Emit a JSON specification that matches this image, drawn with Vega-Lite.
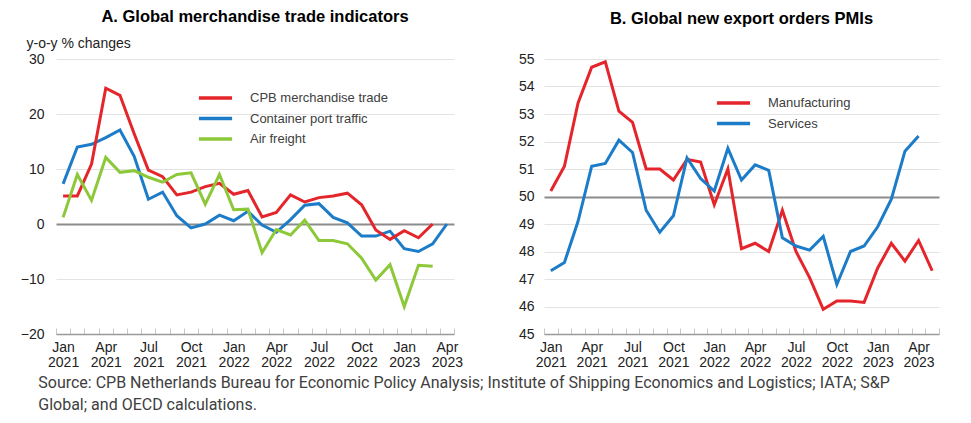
{
  "$schema": "https://vega.github.io/schema/vega-lite/v6.json",
  "background": "white",
  "padding": {"left": 20, "top": 8, "right": 10, "bottom": 5},
  "datasets": {
    "trade": [
      {"month":"Jan 2021","series":"Container port traffic","value":7.3},
      {"month":"Feb 2021","series":"Container port traffic","value":14.0},
      {"month":"Mar 2021","series":"Container port traffic","value":14.5},
      {"month":"Apr 2021","series":"Container port traffic","value":15.7},
      {"month":"May 2021","series":"Container port traffic","value":17.1},
      {"month":"Jun 2021","series":"Container port traffic","value":12.3},
      {"month":"Jul 2021","series":"Container port traffic","value":4.5},
      {"month":"Aug 2021","series":"Container port traffic","value":5.8},
      {"month":"Sep 2021","series":"Container port traffic","value":1.5},
      {"month":"Oct 2021","series":"Container port traffic","value":-0.7},
      {"month":"Nov 2021","series":"Container port traffic","value":0.0},
      {"month":"Dec 2021","series":"Container port traffic","value":1.6},
      {"month":"Jan 2022","series":"Container port traffic","value":0.6},
      {"month":"Feb 2022","series":"Container port traffic","value":2.3},
      {"month":"Mar 2022","series":"Container port traffic","value":-0.2},
      {"month":"Apr 2022","series":"Container port traffic","value":-1.5},
      {"month":"May 2022","series":"Container port traffic","value":0.8},
      {"month":"Jun 2022","series":"Container port traffic","value":3.4},
      {"month":"Jul 2022","series":"Container port traffic","value":3.7},
      {"month":"Aug 2022","series":"Container port traffic","value":1.2},
      {"month":"Sep 2022","series":"Container port traffic","value":0.2},
      {"month":"Oct 2022","series":"Container port traffic","value":-2.2},
      {"month":"Nov 2022","series":"Container port traffic","value":-2.2},
      {"month":"Dec 2022","series":"Container port traffic","value":-1.3},
      {"month":"Jan 2023","series":"Container port traffic","value":-4.5},
      {"month":"Feb 2023","series":"Container port traffic","value":-5.0},
      {"month":"Mar 2023","series":"Container port traffic","value":-3.6},
      {"month":"Apr 2023","series":"Container port traffic","value":0.0},
      {"month":"Jan 2021","series":"CPB merchandise trade","value":5.1},
      {"month":"Feb 2021","series":"CPB merchandise trade","value":5.1},
      {"month":"Mar 2021","series":"CPB merchandise trade","value":10.9},
      {"month":"Apr 2021","series":"CPB merchandise trade","value":24.7},
      {"month":"May 2021","series":"CPB merchandise trade","value":23.4},
      {"month":"Jun 2021","series":"CPB merchandise trade","value":16.4},
      {"month":"Jul 2021","series":"CPB merchandise trade","value":9.8},
      {"month":"Aug 2021","series":"CPB merchandise trade","value":8.6},
      {"month":"Sep 2021","series":"CPB merchandise trade","value":5.3},
      {"month":"Oct 2021","series":"CPB merchandise trade","value":5.8},
      {"month":"Nov 2021","series":"CPB merchandise trade","value":6.8},
      {"month":"Dec 2021","series":"CPB merchandise trade","value":7.4},
      {"month":"Jan 2022","series":"CPB merchandise trade","value":5.4},
      {"month":"Feb 2022","series":"CPB merchandise trade","value":6.1},
      {"month":"Mar 2022","series":"CPB merchandise trade","value":1.3},
      {"month":"Apr 2022","series":"CPB merchandise trade","value":2.1},
      {"month":"May 2022","series":"CPB merchandise trade","value":5.3},
      {"month":"Jun 2022","series":"CPB merchandise trade","value":4.0},
      {"month":"Jul 2022","series":"CPB merchandise trade","value":4.8},
      {"month":"Aug 2022","series":"CPB merchandise trade","value":5.1},
      {"month":"Sep 2022","series":"CPB merchandise trade","value":5.6},
      {"month":"Oct 2022","series":"CPB merchandise trade","value":3.5},
      {"month":"Nov 2022","series":"CPB merchandise trade","value":-1.1},
      {"month":"Dec 2022","series":"CPB merchandise trade","value":-2.8},
      {"month":"Jan 2023","series":"CPB merchandise trade","value":-1.2},
      {"month":"Feb 2023","series":"CPB merchandise trade","value":-2.5},
      {"month":"Mar 2023","series":"CPB merchandise trade","value":0.0},
      {"month":"Jan 2021","series":"Air freight","value":1.2},
      {"month":"Feb 2021","series":"Air freight","value":9.0},
      {"month":"Mar 2021","series":"Air freight","value":4.3},
      {"month":"Apr 2021","series":"Air freight","value":12.1},
      {"month":"May 2021","series":"Air freight","value":9.4},
      {"month":"Jun 2021","series":"Air freight","value":9.7},
      {"month":"Jul 2021","series":"Air freight","value":8.5},
      {"month":"Aug 2021","series":"Air freight","value":7.6},
      {"month":"Sep 2021","series":"Air freight","value":9.0},
      {"month":"Oct 2021","series":"Air freight","value":9.3},
      {"month":"Nov 2021","series":"Air freight","value":3.6},
      {"month":"Dec 2021","series":"Air freight","value":9.0},
      {"month":"Jan 2022","series":"Air freight","value":2.6},
      {"month":"Feb 2022","series":"Air freight","value":2.7},
      {"month":"Mar 2022","series":"Air freight","value":-5.2},
      {"month":"Apr 2022","series":"Air freight","value":-1.0},
      {"month":"May 2022","series":"Air freight","value":-2.0},
      {"month":"Jun 2022","series":"Air freight","value":0.7},
      {"month":"Jul 2022","series":"Air freight","value":-3.0},
      {"month":"Aug 2022","series":"Air freight","value":-3.0},
      {"month":"Sep 2022","series":"Air freight","value":-3.6},
      {"month":"Oct 2022","series":"Air freight","value":-6.2},
      {"month":"Nov 2022","series":"Air freight","value":-10.2},
      {"month":"Dec 2022","series":"Air freight","value":-7.4},
      {"month":"Jan 2023","series":"Air freight","value":-15.0},
      {"month":"Feb 2023","series":"Air freight","value":-7.5},
      {"month":"Mar 2023","series":"Air freight","value":-7.7}
    ],
    "pmi": [
      {"month":"Jan 2021","series":"Manufacturing","value":50.2},
      {"month":"Feb 2021","series":"Manufacturing","value":51.1},
      {"month":"Mar 2021","series":"Manufacturing","value":53.4},
      {"month":"Apr 2021","series":"Manufacturing","value":54.7},
      {"month":"May 2021","series":"Manufacturing","value":54.9},
      {"month":"Jun 2021","series":"Manufacturing","value":53.1},
      {"month":"Jul 2021","series":"Manufacturing","value":52.7},
      {"month":"Aug 2021","series":"Manufacturing","value":51.0},
      {"month":"Sep 2021","series":"Manufacturing","value":51.0},
      {"month":"Oct 2021","series":"Manufacturing","value":50.6},
      {"month":"Nov 2021","series":"Manufacturing","value":51.35},
      {"month":"Dec 2021","series":"Manufacturing","value":51.25},
      {"month":"Jan 2022","series":"Manufacturing","value":49.7},
      {"month":"Feb 2022","series":"Manufacturing","value":51.0},
      {"month":"Mar 2022","series":"Manufacturing","value":48.1},
      {"month":"Apr 2022","series":"Manufacturing","value":48.3},
      {"month":"May 2022","series":"Manufacturing","value":48.0},
      {"month":"Jun 2022","series":"Manufacturing","value":49.5},
      {"month":"Jul 2022","series":"Manufacturing","value":48.0},
      {"month":"Aug 2022","series":"Manufacturing","value":47.05},
      {"month":"Sep 2022","series":"Manufacturing","value":45.9},
      {"month":"Oct 2022","series":"Manufacturing","value":46.2},
      {"month":"Nov 2022","series":"Manufacturing","value":46.2},
      {"month":"Dec 2022","series":"Manufacturing","value":46.15},
      {"month":"Jan 2023","series":"Manufacturing","value":47.4},
      {"month":"Feb 2023","series":"Manufacturing","value":48.3},
      {"month":"Mar 2023","series":"Manufacturing","value":47.65},
      {"month":"Apr 2023","series":"Manufacturing","value":48.4},
      {"month":"May 2023","series":"Manufacturing","value":47.3},
      {"month":"Jan 2021","series":"Services","value":47.3},
      {"month":"Feb 2021","series":"Services","value":47.6},
      {"month":"Mar 2021","series":"Services","value":49.1},
      {"month":"Apr 2021","series":"Services","value":51.1},
      {"month":"May 2021","series":"Services","value":51.2},
      {"month":"Jun 2021","series":"Services","value":52.05},
      {"month":"Jul 2021","series":"Services","value":51.6},
      {"month":"Aug 2021","series":"Services","value":49.5},
      {"month":"Sep 2021","series":"Services","value":48.7},
      {"month":"Oct 2021","series":"Services","value":49.3},
      {"month":"Nov 2021","series":"Services","value":51.4},
      {"month":"Dec 2021","series":"Services","value":50.65},
      {"month":"Jan 2022","series":"Services","value":50.2},
      {"month":"Feb 2022","series":"Services","value":51.75},
      {"month":"Mar 2022","series":"Services","value":50.6},
      {"month":"Apr 2022","series":"Services","value":51.15},
      {"month":"May 2022","series":"Services","value":50.95},
      {"month":"Jun 2022","series":"Services","value":48.5},
      {"month":"Jul 2022","series":"Services","value":48.2},
      {"month":"Aug 2022","series":"Services","value":48.05},
      {"month":"Sep 2022","series":"Services","value":48.55},
      {"month":"Oct 2022","series":"Services","value":46.8},
      {"month":"Nov 2022","series":"Services","value":48.0},
      {"month":"Dec 2022","series":"Services","value":48.2},
      {"month":"Jan 2023","series":"Services","value":48.9},
      {"month":"Feb 2023","series":"Services","value":49.9},
      {"month":"Mar 2023","series":"Services","value":51.65},
      {"month":"Apr 2023","series":"Services","value":52.2}
    ]
  },
  "title": {
    "text": ["Source: CPB Netherlands Bureau for Economic Policy Analysis; Institute of Shipping Economics and Logistics; IATA; S&P", "Global; and OECD calculations."],
    "orient": "bottom",
    "anchor": "start",
    "frame": "bounds",
    "font": "Roboto",
    "fontSize": 16,
    "fontWeight": "normal",
    "color": "#404040",
    "lineHeight": 22,
    "offset": 6,
    "dx": 18
  },
  "hconcat": [
    {
      "data": {"name": "trade"},
      "width": 398,
      "height": 275,
      "title": {"text": "A. Global merchandise trade indicators", "fontSize": 16.5, "fontWeight": "bold", "color": "#000000", "anchor": "middle", "frame": "group", "offset": 11},
      "mark": {"type": "line", "strokeWidth": 3},
      "encoding": {
        "x": {
          "field": "month", "type": "ordinal", "sort": null,
          "scale": {"type": "band", "paddingInner": 0, "paddingOuter": 0},
          "axis": {
            "title": null, "tickBand": "extent", "labelAngle": 0,
            "labelExpr": "test(/^(Jan|Apr|Jul|Oct)/, datum.value) ? split(datum.value, ' ') : ''",
            "labelLineHeight": 15
          }
        },
        "y": {
          "field": "value", "type": "quantitative",
          "scale": {"domain": [-20, 30], "nice": false},
          "axis": {
            "values": [-20, -10, 0, 10, 20, 30],
            "title": "y-o-y % changes", "titleAngle": 0, "titleAlign": "left", "titleBaseline": "alphabetic",
            "titleX": -30, "titleY": -12, "titleFontSize": 14, "titleFontWeight": "normal", "titleColor": "#222222",
            "gridColor": {"condition": {"test": "datum.value === 0", "value": "#8c8c8c"}, "value": "#e3e3e3"},
            "gridWidth": {"condition": {"test": "datum.value === 0", "value": 2}, "value": 1}
          }
        },
        "color": {
          "field": "series", "type": "nominal",
          "scale": {"domain": ["CPB merchandise trade", "Container port traffic", "Air freight"], "range": ["#e4252b", "#1c7cc8", "#8dc83a"]},
          "legend": {"title": null, "orient": "none", "legendX": 141, "legendY": 32}
        }
      }
    },
    {
      "data": {"name": "pmi"},
      "width": 395,
      "height": 275,
      "title": {"text": "B. Global new export orders PMIs", "fontSize": 16.5, "fontWeight": "bold", "color": "#000000", "anchor": "middle", "frame": "group", "offset": 25},
      "mark": {"type": "line", "strokeWidth": 3},
      "encoding": {
        "x": {
          "field": "month", "type": "ordinal", "sort": null,
          "scale": {"type": "band", "paddingInner": 0, "paddingOuter": 0},
          "axis": {
            "title": null, "tickBand": "extent", "labelAngle": 0,
            "labelExpr": "test(/^(Jan|Apr|Jul|Oct)/, datum.value) ? split(datum.value, ' ') : ''",
            "labelLineHeight": 15
          }
        },
        "y": {
          "field": "value", "type": "quantitative",
          "scale": {"domain": [45, 55], "nice": false, "zero": false},
          "axis": {
            "values": [45, 46, 47, 48, 49, 50, 51, 52, 53, 54, 55],
            "title": null, "labelPadding": 10,
            "gridColor": {"condition": {"test": "datum.value === 50", "value": "#8c8c8c"}, "value": "#e3e3e3"},
            "gridWidth": {"condition": {"test": "datum.value === 50", "value": 2}, "value": 1}
          }
        },
        "color": {
          "field": "series", "type": "nominal",
          "scale": {"domain": ["Manufacturing", "Services"], "range": ["#e4252b", "#1c7cc8"]},
          "legend": {"title": null, "orient": "none", "legendX": 171, "legendY": 37}
        }
      }
    }
  ],
  "spacing": 55,
  "resolve": {"scale": {"color": "independent", "x": "independent", "y": "independent"}, "legend": {"color": "independent"}},
  "config": {
    "font": "Liberation Sans",
    "view": {"stroke": null},
    "axis": {
      "labelFontSize": 14, "labelColor": "#222222", "labelFont": "Liberation Sans"
    },
    "axisY": {"ticks": false, "domain": false, "grid": true, "labelPadding": 12},
    "axisX": {"grid": false, "domainColor": "#9a9a9a", "domainWidth": 1.5, "tickColor": "#c8c8c8", "tickSize": -6, "labelPadding": 12, "labelBaseline": "top"},
    "legend": {"symbolType": "stroke", "symbolSize": 1100, "symbolStrokeWidth": 3.5, "labelFontSize": 13, "labelColor": "#404040", "labelOffset": 16, "rowPadding": 6.5, "clipHeight": 14, "labelFont": "Liberation Sans"}
  }
}
